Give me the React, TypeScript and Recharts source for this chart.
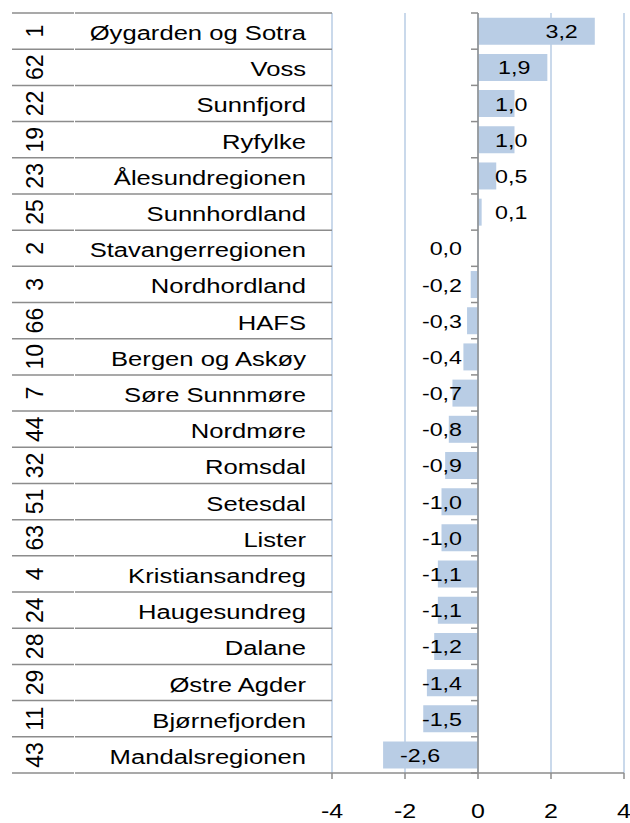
import React from 'react';
import { BarChart, Bar, XAxis, YAxis, CartesianGrid, ReferenceLine, LabelList } from 'recharts';

const regionNumbers = ['1', '62', '22', '19', '23', '25', '2', '3', '66', '10', '7', '44', '32', '51', '63', '4', '24', '28', '29', '11', '43'];
const regionNames = [
  'Øygarden og Sotra', 'Voss', 'Sunnfjord', 'Ryfylke', 'Ålesundregionen', 'Sunnhordland',
  'Stavangerregionen', 'Nordhordland', 'HAFS', 'Bergen og Askøy', 'Søre Sunnmøre', 'Nordmøre',
  'Romsdal', 'Setesdal', 'Lister', 'Kristiansandreg', 'Haugesundreg', 'Dalane', 'Østre Agder',
  'Bjørnefjorden', 'Mandalsregionen',
];
const changeValues = [3.2, 1.9, 1.0, 1.0, 0.5, 0.1, 0.0, -0.2, -0.3, -0.4, -0.7, -0.8, -0.9, -1.0, -1.0, -1.1, -1.1, -1.2, -1.4, -1.5, -2.6];
const xTicks = [-4, -2, 0, 2, 4];

const data = regionNames.map((name, i) => ({ name, num: regionNumbers[i], value: changeValues[i] }));

const FONT = '"Liberation Sans", Arial, sans-serif';
const STRETCH = 1.25;
const AXIS_GREY = '#8c8c8c';
const BLUE = '#b9cde5';

const fmt = (v: number) => v.toFixed(1).replace('.', ',');

// rough text width for Arial-like font
const textWidth = (s: string, size: number) => {
  let w = 0;
  for (const c of s) w += c === ',' ? 0.278 : c === '-' ? 0.333 : 0.556;
  return w * size * STRETCH;
};

const CategoryTick = (props: any) => {
  const { x, y, index, payload } = props;
  const half = payload && payload.offset ? payload.offset : 760 / 21 / 2;
  const row = data[index];
  return (
    <g>
      <line x1={x - 320} x2={x - 258} y1={y - half} y2={y - half} stroke={AXIS_GREY} strokeWidth={1.5} />
      <line x1={x - 257} x2={x} y1={y - half} y2={y - half} stroke={AXIS_GREY} strokeWidth={1.5} />
      {index === data.length - 1 && (
        <>
          <line x1={x - 320} x2={x - 258} y1={y + half} y2={y + half} stroke={AXIS_GREY} strokeWidth={1.5} />
          <line x1={x - 257} x2={x} y1={y + half} y2={y + half} stroke={AXIS_GREY} strokeWidth={1.5} />
        </>
      )}
      <text
        transform={`translate(${x - 289},${y}) rotate(-90)`}
        textAnchor="middle"
        fontSize={23}
        fontFamily={FONT}
        fill="#000"
      >
        {row.num}
      </text>
      <text
        transform={`translate(${x - 26},${y + 9}) scale(1.22,1)`}
        textAnchor="end"
        fontSize={21}
        fontFamily={FONT}
        fill="#000"
      >
        {row.name}
      </text>
    </g>
  );
};

const ValueTick = (props: any) => {
  const { x, y, payload } = props;
  const label = String(payload.value);
  return (
    <text
      transform={`translate(${x},${y + 37}) scale(${STRETCH},1)`}
      textAnchor="middle"
      fontSize={20}
      fontFamily={FONT}
      fill="#000"
    >
      {label}
    </text>
  );
};

const ZeroAxis = (props: any) => {
  const { x1, y1, y2 } = props;
  const n = data.length;
  const step = (y2 - y1) / n;
  const marks = [];
  for (let i = 0; i <= n; i++) {
    const yy = y1 + step * i;
    marks.push(<line key={i} x1={x1 - 7} x2={x1} y1={yy} y2={yy} stroke={AXIS_GREY} strokeWidth={1.5} />);
  }
  return (
    <g>
      <line x1={x1} x2={x1} y1={y1} y2={y2} stroke={AXIS_GREY} strokeWidth={1.5} />
      {marks}
    </g>
  );
};

const ValueLabel = (props: any) => {
  const { x, y, width, height, value } = props;
  const fontSize = 18.6;
  const a = x;
  const b = x + width;
  const label = fmt(value);
  const w = textWidth(label, fontSize);
  const cy = y + height / 2 + 7;
  let px: number;
  let anchor: 'start' | 'end';
  if (value > 0) {
    const zero = Math.min(a, b);
    const end = Math.max(a, b);
    if (end - 17 - w >= zero + 17) {
      px = end - 17;
      anchor = 'end';
    } else {
      px = zero + 17;
      anchor = 'start';
    }
  } else {
    const zero = Math.max(a, b);
    const end = Math.min(a, b);
    if (end + 17 + w <= zero - 16) {
      px = end + 17;
      anchor = 'start';
    } else {
      px = zero - 16;
      anchor = 'end';
    }
  }
  return (
    <text
      transform={`translate(${px},${cy}) scale(${STRETCH},1)`}
      textAnchor={anchor}
      fontSize={fontSize}
      fontFamily={FONT}
      fill="#000"
    >
      {label}
    </text>
  );
};

export default function App() {
  return (
    <div style={{ position: 'absolute', left: 0, top: 0, background: '#fff' }}>
      <BarChart
        width={630}
        height={823}
        data={data}
        layout="vertical"
        margin={{ top: 13, right: 6, bottom: 0, left: 12 }}
        barCategoryGap="13%"
      >
        <CartesianGrid horizontal={false} stroke={BLUE} strokeWidth={1.5} />
        <XAxis
          type="number"
          domain={[-4, 4]}
          ticks={xTicks}
          height={50}
          stroke={AXIS_GREY}
          strokeWidth={1.5}
          tickSize={6}
          tick={<ValueTick />}
          interval={0}
        />
        <YAxis
          type="category"
          dataKey="name"
          width={320}
          axisLine={false}
          tickLine={false}
          tickSize={0}
          tickMargin={0}
          tick={<CategoryTick />}
          interval={0}
        />
        <Bar dataKey="value" fill={BLUE} minPointSize={0.01} isAnimationActive={false}>
          <LabelList dataKey="value" content={<ValueLabel />} />
        </Bar>
        <ReferenceLine x={0} shape={<ZeroAxis />} />
      </BarChart>
    </div>
  );
}
